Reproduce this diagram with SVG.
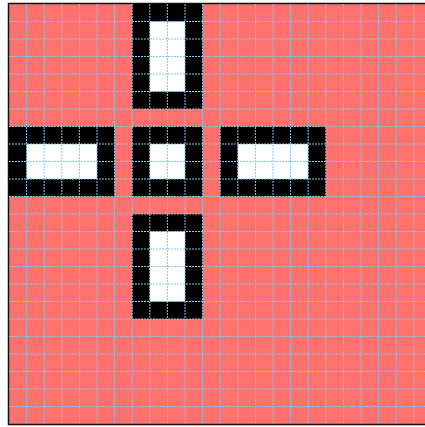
<svg xmlns="http://www.w3.org/2000/svg" width="425" height="427" viewBox="0 0 425 427">
<style>
.b{fill:#000}
.w{fill:#fff}
.g line{stroke:#86c6ec;stroke-width:1;stroke-dasharray:2 1}
</style>
<rect x="0" y="0" width="425" height="427" fill="#fff"/>
<rect x="8.5" y="3.5" width="430" height="421" fill="#ff716d" stroke="#111" stroke-width="1.5"/>
<g id="top"><rect class="b" x="132.2" y="4" width="70.4" height="105"/><rect class="w" x="149.8" y="21.5" width="35.2" height="70"/></g>
<g id="left"><rect class="b" x="9" y="126.5" width="105.6" height="70"/><rect class="w" x="26.6" y="144" width="70.4" height="35"/></g>
<g id="center"><rect class="b" x="132.2" y="126.5" width="70.4" height="70"/><rect class="w" x="149.8" y="144" width="35.2" height="35"/></g>
<g id="right"><rect class="b" x="220.2" y="126.5" width="105.6" height="70"/><rect class="w" x="237.8" y="144" width="70.4" height="35"/></g>
<g id="bottom"><rect class="b" x="132.2" y="214" width="70.4" height="105"/><rect class="w" x="149.8" y="231.5" width="35.2" height="70"/></g>
<g class="g" id="grid">
<line x1="26.6" y1="4" x2="26.6" y2="424"/><line x1="44.2" y1="4" x2="44.2" y2="424"/><line x1="61.8" y1="4" x2="61.8" y2="424"/><line x1="79.4" y1="4" x2="79.4" y2="424"/><line x1="97" y1="4" x2="97" y2="424"/><line x1="114.6" y1="4" x2="114.6" y2="424"/><line x1="132.2" y1="4" x2="132.2" y2="424"/><line x1="149.8" y1="4" x2="149.8" y2="424"/><line x1="167.4" y1="4" x2="167.4" y2="424"/><line x1="185" y1="4" x2="185" y2="424"/><line x1="202.6" y1="4" x2="202.6" y2="424"/><line x1="220.2" y1="4" x2="220.2" y2="424"/><line x1="237.8" y1="4" x2="237.8" y2="424"/><line x1="255.4" y1="4" x2="255.4" y2="424"/><line x1="273" y1="4" x2="273" y2="424"/><line x1="290.6" y1="4" x2="290.6" y2="424"/><line x1="308.2" y1="4" x2="308.2" y2="424"/><line x1="325.8" y1="4" x2="325.8" y2="424"/><line x1="343.4" y1="4" x2="343.4" y2="424"/><line x1="361" y1="4" x2="361" y2="424"/><line x1="378.6" y1="4" x2="378.6" y2="424"/><line x1="396.2" y1="4" x2="396.2" y2="424"/><line x1="413.8" y1="4" x2="413.8" y2="424"/>
<line x1="9" y1="21.5" x2="425" y2="21.5"/><line x1="9" y1="39" x2="425" y2="39"/><line x1="9" y1="56.5" x2="425" y2="56.5"/><line x1="9" y1="74" x2="425" y2="74"/><line x1="9" y1="91.5" x2="425" y2="91.5"/><line x1="9" y1="109" x2="425" y2="109"/><line x1="9" y1="126.5" x2="425" y2="126.5"/><line x1="9" y1="144" x2="425" y2="144"/><line x1="9" y1="161.5" x2="425" y2="161.5"/><line x1="9" y1="179" x2="425" y2="179"/><line x1="9" y1="196.5" x2="425" y2="196.5"/><line x1="9" y1="214" x2="425" y2="214"/><line x1="9" y1="231.5" x2="425" y2="231.5"/><line x1="9" y1="249" x2="425" y2="249"/><line x1="9" y1="266.5" x2="425" y2="266.5"/><line x1="9" y1="284" x2="425" y2="284"/><line x1="9" y1="301.5" x2="425" y2="301.5"/><line x1="9" y1="319" x2="425" y2="319"/><line x1="9" y1="336.5" x2="425" y2="336.5"/><line x1="9" y1="354" x2="425" y2="354"/><line x1="9" y1="371.5" x2="425" y2="371.5"/><line x1="9" y1="389" x2="425" y2="389"/><line x1="9" y1="406.5" x2="425" y2="406.5"/>
</g>
</svg>
